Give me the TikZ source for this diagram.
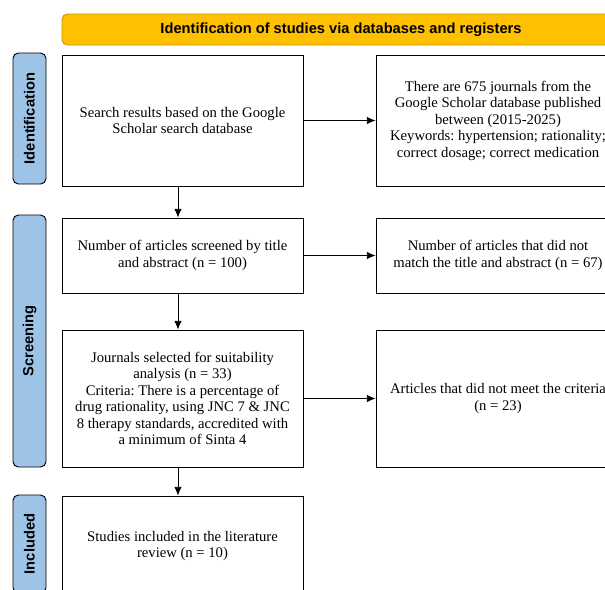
\documentclass[tikz,border=0pt]{standalone}
\usepackage{fontspec}
\setmainfont{Liberation Serif}
\newfontfamily\labelfont{Liberation Sans}
\usepackage{xcolor}
\usepackage{tikz}
\usetikzlibrary{arrows.meta, shadows, positioning}
\frenchspacing

\definecolor{bannergold}{HTML}{FFC000}
\definecolor{bannerline}{HTML}{C99700}
\definecolor{sideblue}{HTML}{9DC3E6}

\tikzset{
    stagebox/.style={draw=black, line width=0.6pt, fill=white, align=center,
        inner sep=2pt, font=\fontsize{11}{12.4}\selectfont,
        drop shadow={shadow xshift=0.9pt, shadow yshift=-0.9pt, fill=black!55, opacity=1}},
    sidetag/.style={draw=black, line width=0.7pt, fill=sideblue, rounded corners=4pt,
        rotate=90, minimum height=24.75pt, inner sep=0pt,
        font=\labelfont\bfseries\fontsize{11}{13}\selectfont},
    flow/.style={-{Latex[length=6.5pt, width=5.5pt]}, line width=0.6pt}
}

\begin{document}
\begin{tikzpicture}[x=0.75pt, y=-0.75pt]
    \useasboundingbox (0,0) rectangle (605,589);
    \clip (0,0) rectangle (605,589);

    % 1. Banner
    \node[draw=bannerline, line width=0.7pt, fill=bannergold, rounded corners=4pt,
        minimum width=418.5pt, minimum height=23.25pt, inner sep=0pt,
        font=\labelfont\bfseries\fontsize{11}{13}\selectfont]
        (banner) at (341,29.5) {Identification of studies via databases and registers};

    % 2. Stage tags
    \node[sidetag, minimum width=98.25pt] (tagid) at (29.5,118.5) {Identification};
    \node[sidetag, minimum width=189pt] (tagscr) at (29.5,341) {Screening};
    \node[sidetag, minimum width=73.5pt] (taginc) at (29.5,544) {Included};

    % 3. Boxes
    \node[stagebox, minimum width=180.75pt, minimum height=98.25pt] (search) at (182.5,120.5)
        {Search results based on the Google\\Scholar search database};
    \node[stagebox, minimum width=183pt, minimum height=98.25pt] (found) at (498,120.5)
        {There are 675 journals from the\\Google Scholar database published\\between (2015-2025)\\Keywords: hypertension; rationality;\\correct dosage; correct medication};
    \node[stagebox, minimum width=180.75pt, minimum height=56.25pt] (screened) at (182.5,255.5)
        {Number of articles screened by title\\and abstract (n = 100)};
    \node[stagebox, minimum width=183pt, minimum height=56.25pt] (nomatch) at (498,255.5)
        {Number of articles that did not\\match the title and abstract (n = 67)};
    \node[stagebox, minimum width=180.75pt, minimum height=102.75pt] (selected) at (182.5,398.5)
        {Journals selected for suitability\\analysis (n = 33)\\Criteria: There is a percentage of\\drug rationality, using JNC 7 \& JNC\\8 therapy standards, accredited with\\a minimum of Sinta 4};
    \node[stagebox, minimum width=183pt, minimum height=102.75pt] (notmet) at (498,398.5)
        {Articles that did not meet the criteria\\(n = 23)};
    \node[stagebox, minimum width=180.75pt, minimum height=75pt] (included) at (182.5,546)
        {Studies included in the literature\\review (n = 10)};

    % 4. Arrows
    \draw[flow] (search) -- (found);
    \draw[flow] (screened) -- (nomatch);
    \draw[flow] (selected) -- (notmet);
    \draw[flow] ([xshift=-3.4pt]search.south) -- ([xshift=-3.4pt]screened.north);
    \draw[flow] ([xshift=-3.4pt]screened.south) -- ([xshift=-3.4pt]selected.north);
    \draw[flow] ([xshift=-3.4pt]selected.south) -- ([xshift=-3.4pt]included.north);
\end{tikzpicture}
\end{document}
